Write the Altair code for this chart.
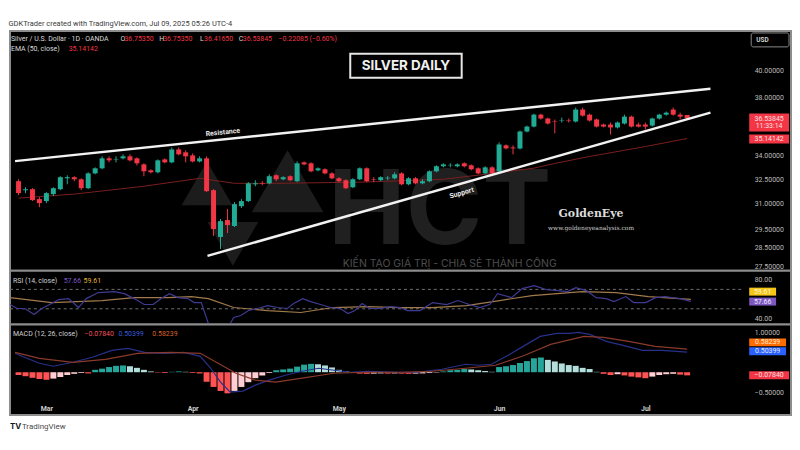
import altair as alt
import numpy as np
import pandas as pd

# ---------------- data ----------------
# daily bars: bar 0 = Mon Mar 3 2025, first bar = -4, last bar = 92 (Jul 9)
first_bar = -4
opens = [32.38, 31.83, 31.89, 31.29, 31.17, 31.59, 31.89, 32.56, 32.63, 32.50,
         31.95, 32.87, 33.19, 33.83, 33.73, 33.83, 33.96, 33.83, 33.44, 33.06,
         32.94, 33.76, 33.57, 34.41, 34.22, 34.02, 33.63, 33.83, 31.83, 29.10,
         30.06, 29.72, 30.87, 31.17, 32.19, 32.25, 32.25, 32.75, 32.50, 32.69,
         32.38, 33.57, 33.51, 33.06, 33.13, 32.87, 32.56, 32.44, 32.01, 32.50,
         33.19, 32.50, 32.44, 32.56, 32.56, 32.87, 32.19, 32.56, 32.25, 32.38,
         33.00, 33.32, 33.38, 33.32, 33.51, 33.38, 33.19, 32.87, 33.25, 33.00,
         34.68, 34.54, 34.48, 35.61, 35.95, 36.78, 36.51, 36.30, 36.37, 36.37,
         36.30, 37.14, 36.78, 36.44, 36.09, 36.09, 35.89, 36.16, 36.64, 36.09,
         36.09, 36.02, 36.51, 36.78, 37.14, 36.78, 36.7535]
highs = [32.50, 32.01, 31.95, 31.41, 31.71, 32.01, 32.69, 32.75, 32.69, 32.56,
         32.94, 33.25, 33.96, 33.96, 33.96, 34.09, 34.09, 33.89, 33.51, 33.13,
         33.76, 33.83, 34.54, 34.54, 34.35, 34.15, 33.96, 33.96, 31.89, 30.12,
         30.70, 31.11, 31.29, 32.32, 32.44, 32.38, 32.81, 32.81, 32.69, 32.75,
         33.63, 33.63, 33.57, 33.25, 33.19, 32.94, 32.63, 32.50, 32.56, 33.25,
         33.25, 32.63, 32.69, 32.69, 32.94, 32.94, 32.63, 32.63, 32.50, 33.06,
         33.38, 33.51, 33.51, 33.51, 33.57, 33.44, 33.25, 33.32, 33.32, 34.88,
         34.74, 34.68, 35.68, 36.02, 36.85, 36.85, 36.57, 36.44, 36.57, 36.51,
         37.28, 37.28, 36.85, 36.51, 36.16, 36.23, 36.30, 36.78, 36.71, 36.23,
         36.23, 36.57, 36.85, 37.00, 37.28, 36.92, 36.7535]
lows = [31.53, 31.65, 31.17, 30.81, 31.05, 31.47, 31.83, 32.19, 32.38, 31.83,
        31.89, 32.81, 33.13, 33.57, 33.57, 33.76, 33.63, 33.38, 32.69, 32.87,
        32.87, 33.51, 33.51, 34.02, 33.57, 33.57, 33.57, 31.71, 29.16, 28.44,
        29.32, 29.66, 30.76, 31.11, 32.07, 32.13, 32.19, 32.38, 32.44, 32.38,
        32.32, 33.38, 32.94, 33.00, 32.81, 32.50, 32.32, 31.89, 31.95, 32.44,
        32.32, 32.32, 32.38, 32.44, 32.50, 32.13, 32.13, 32.19, 32.19, 32.32,
        32.94, 33.25, 33.25, 33.25, 33.25, 33.06, 32.81, 32.81, 32.81, 32.94,
        34.41, 34.09, 34.41, 35.55, 35.89, 36.44, 36.09, 35.48, 36.23, 36.23,
        36.23, 36.64, 36.30, 35.89, 35.89, 35.41, 35.82, 36.09, 35.89, 35.89,
        35.75, 35.95, 36.44, 36.71, 36.71, 36.44, 36.4165]
closes = [31.65, 31.89, 31.23, 31.05, 31.65, 31.95, 32.63, 32.63, 32.50, 31.95,
          32.87, 33.19, 33.83, 33.70, 33.76, 33.96, 33.70, 33.51, 33.00, 32.94,
          33.70, 33.57, 34.41, 34.09, 33.96, 33.63, 33.83, 31.77, 29.55, 30.00,
          29.77, 30.99, 31.17, 32.25, 32.25, 32.22, 32.69, 32.50, 32.63, 32.44,
          33.51, 33.44, 33.00, 33.19, 32.87, 32.56, 32.38, 31.95, 32.50, 33.19,
          32.38, 32.47, 32.63, 32.60, 32.81, 32.19, 32.56, 32.25, 32.38, 33.00,
          33.32, 33.44, 33.41, 33.44, 33.32, 33.13, 32.87, 33.25, 32.87, 34.74,
          34.48, 34.48, 35.61, 35.95, 36.78, 36.51, 36.16, 36.27, 36.40, 36.33,
          37.14, 36.71, 36.37, 35.95, 35.95, 35.89, 36.23, 36.64, 35.95, 35.95,
          35.95, 36.51, 36.78, 36.92, 36.78, 36.64, 36.53845]

ema_bar = [-4, 4, 14, 22, 27, 33, 45, 57, 63, 70, 73, 78, 86, 92]
ema_val = [31.35, 31.59, 32.07, 32.56, 32.25, 32.25, 32.32, 32.50, 32.81, 33.20,
           33.50, 33.95, 34.60, 35.14142]

trend_name = ["Resistance", "Resistance", "Support", "Support"]
trend_bar = [-4.5, 95.35, 23.13, 95.35]
trend_val = [33.65, 38.65, 28.07, 36.92]

rsi_bar = [-4.5, -3.5, -2.4, -1.1, 0, 1.1, 2.4, 3.8, 5.2, 6.3, 8.0, 10.3, 11.7, 13.1,
           14.5, 15.8, 16.9, 18.1, 19.3, 20.7, 21.6, 22.6, 23.7, 25.0, 26.4, 27.2,
           28.2, 29.3, 30.6, 32.0, 33.4, 34.8, 35.7, 37.0, 38.1, 39.5, 40.9, 42.3,
           43.4, 44.4, 45.4, 46.5, 48.0, 49.4, 50.8, 51.8, 53.6, 55.4, 57.4, 59.0,
           60.6, 62.1, 63.5, 64.6, 66.6, 68.1, 69.8, 71.5, 73.1, 74.5, 75.7, 77.2,
           78.6, 80.0, 81.1, 82.8, 83.9, 85.6, 87.0, 88.4, 89.3, 90.5, 92]
rsi_val = [54.4, 50.3, 50.3, 44.1, 50.3, 54.4, 59.5, 60.5, 51.3, 60.5, 66.7, 67.7,
           65.6, 60.5, 54.4, 54.4, 60.5, 65.6, 61.5, 60.5, 56.4, 56.4, 32.8, 25.6,
           30.8, 41.0, 43.1, 48.2, 50.3, 53.3, 51.3, 50.3, 55.4, 60.5, 57.4, 54.4,
           51.3, 50.3, 45.1, 48.2, 55.4, 50.3, 50.3, 52.3, 51.3, 48.2, 48.2, 56.4,
           54.4, 58.5, 54.4, 51.3, 54.4, 65.6, 61.5, 70.8, 73.8, 69.7, 68.7, 67.7,
           71.8, 68.7, 61.5, 60.5, 57.4, 62.6, 56.4, 56.4, 61.5, 62.6, 61.5, 60.5,
           57.66]
rsima_bar = [-4.5, 1.4, 8.5, 13.1, 17.9, 21.2, 23.6, 27.2, 32.0, 36.7, 41.3, 46.1,
             50.8, 55.4, 60.2, 64.9, 69.5, 76.6, 81.4, 86.0, 92]
rsima_val = [61.5, 56.4, 58.5, 61.5, 61.5, 62.6, 60.5, 51.3, 48.2, 46.2, 51.3, 52.3,
             51.3, 51.3, 53.3, 58.5, 63.6, 67.7, 66.7, 62.6, 59.61]
rsi_bands = [70, 50]

macd_bar = [-4.5, -2.8, -1.0, 1.0, 3.8, 6.6, 9.4, 11.7, 14.1, 16.9, 19.7, 22.1, 23.6,
            25.0, 26.4, 28.2, 30.0, 32.0, 34.3, 36.7, 39.1, 41.3, 43.7, 46.1, 50.8,
            53.2, 56.8, 60.2, 62.1, 63.9, 66.3, 68.7, 70.9, 73.3, 75.2, 76.4, 78.0,
            80.4, 82.8, 85.6, 88.4, 92]
macd_val = [0.475, 0.35, 0.225, 0.15, 0.25, 0.375, 0.55, 0.6, 0.5, 0.475, 0.5, 0.4,
            0.1, -0.25, -0.5, -0.475, -0.325, -0.2, -0.075, 0.025, 0.1, 0.05, 0.0,
            0.025, 0.0, 0.0, 0.075, 0.2, 0.175, 0.2, 0.425, 0.675, 0.9, 0.975, 0.975,
            1.0, 0.95, 0.775, 0.675, 0.55, 0.55, 0.50399]
sig_bar = [-4.5, -1.0, 3.8, 8.5, 13.1, 17.9, 22.1, 24.4, 27.2, 30.0, 32.9, 36.7,
           41.3, 46.1, 50.8, 55.4, 60.2, 64.5, 68.7, 72.4, 77.2, 80.0, 83.6, 87.4, 92]
sig_val = [0.5, 0.35, 0.25, 0.325, 0.475, 0.5, 0.475, 0.25, -0.025, -0.2, -0.25,
           -0.15, -0.025, 0.0, 0.0, 0.025, 0.1, 0.175, 0.425, 0.7, 0.9, 0.875, 0.775,
           0.65, 0.58239]
hist = [-0.07, -0.10, -0.14, -0.17, -0.19, -0.16, -0.12, -0.07, -0.04, -0.02,
        -0.03, 0.06, 0.09, 0.13, 0.16, 0.17, 0.15, 0.11, 0.06, 0.02,
        -0.01, -0.02, 0.01, 0.02, 0.01, -0.02, -0.03, -0.24, -0.37, -0.47,
        -0.53, -0.47, -0.37, -0.25, -0.15, -0.08, -0.02, 0.05, 0.07, 0.09,
        0.14, 0.19, 0.21, 0.20, 0.17, 0.12, 0.06, 0.02, -0.02, -0.035,
        -0.04, -0.035, -0.03, -0.035, -0.03, -0.035, -0.04, -0.035, -0.03, -0.02,
        -0.01, 0.02, 0.05, 0.06, 0.08, 0.07, 0.05, 0.03, 0.01, 0.13,
        0.15, 0.18, 0.23, 0.28, 0.35, 0.37, 0.31, 0.27, 0.22, 0.18,
        0.16, 0.11, 0.08, 0.01, -0.04, -0.07, -0.05, -0.08, -0.11, -0.13,
        -0.15, -0.11, -0.07, -0.05, -0.04, -0.06, -0.0784]

month_names = ["Mar", "Apr", "May", "Jun", "Jul"]
month_bars = [0, 21, 42, 65, 86]
price_ticks = [27.5, 28.5, 29.5, 31.0, 32.5, 34.0, 38.0, 40.0]
rsi_ticks = [40, 80]
macd_ticks = [-0.5, 1.0]

header = "GDKTrader created with TradingView.com, Jul 09, 2025 05:26 UTC-4"
symbol = "Silver / U.S. Dollar · 1D · OANDA"
ohlc_keys = ["O", "H", "L", "C"]
ohlc_txt = ["36.75350", "36.75350", "36.41650", "36.53845"]
change_txt = "−0.22085 (−0.60%)"

# ---------------- styling ----------------
FONT = "Roboto"
UP, DOWN = "#22ab94", "#f23645"
W, H1, H2, H3 = 785, 241, 54, 91

xs = alt.Scale(domain=[-4.513, 106.2], nice=False, zero=False)
ps = alt.Scale(type="log", domain=[27.28, 43.17], nice=False)
rs = alt.Scale(domain=[33.85, 89.2], nice=False, zero=False)
ms = alt.Scale(domain=[-1.075, 1.2], nice=False, zero=False)


def yaxis(values, fmt):
    return alt.Axis(orient="right", values=values, format=fmt, offset=-37, domain=False,
                    ticks=False, grid=False, labelPadding=0, labelColor="#bdbdbd",
                    labelFontSize=7, labelFont=FONT, title=None, labelOverlap=False)


price_axis = yaxis(price_ticks, ".5f")
rsi_axis = yaxis(rsi_ticks, ".2f")
macd_axis = yaxis(macd_ticks, ".5f")
expr = " : ".join(f"datum.value == {b} ? '{n}'" for b, n in zip(month_bars, month_names)) + " : ''"
time_axis = alt.Axis(orient="bottom", values=month_bars, labelExpr=expr, offset=-11,
                     domain=False, ticks=False, grid=False, labelPadding=0,
                     labelColor="#cfcfcf", labelFontSize=7, labelFontWeight="bold",
                     labelFont=FONT, title=None, labelFlush=False)

one = pd.DataFrame({"k": [0]})


def txt(s, x, y, color, size=7, align="left", weight="normal", font=FONT, angle=0,
        baseline="middle"):
    return alt.Chart(one).mark_text(text=s, align=align, baseline=baseline, color=color,
                                    fontSize=size, fontWeight=weight, font=font,
                                    angle=angle).encode(x=alt.value(x), y=alt.value(y))


def box(x1, x2, y1, y2, fill, stroke=None, sw=0, r=0):
    kw = dict(fill=fill, cornerRadius=r)
    if stroke:
        kw.update(stroke=stroke, strokeWidth=sw)
    return alt.Chart(one).mark_rect(**kw).encode(
        x=alt.value(x1), x2=alt.value(x2), y=alt.value(y1), y2=alt.value(y2))


def tri(shape, x, y, size, color="#1c1c1c"):
    return alt.Chart(one).mark_point(shape=shape, filled=True, size=size, color=color,
                                     opacity=1, strokeWidth=0).encode(
        x=alt.value(x), y=alt.value(y))


# ---------------- price panel ----------------
bars = list(range(first_bar, first_bar + len(opens)))
df = pd.DataFrame({"i": bars, "o": opens, "h": highs, "l": lows, "c": closes})
df["col"] = np.where(df["c"] >= df["o"], UP, DOWN)
col = alt.Color("col:N", scale=None, legend=None)

XP = lambda f: alt.X(f, type="quantitative", scale=xs, axis=None)
YP = lambda f: alt.Y(f, type="quantitative", scale=ps, axis=price_axis)

wm = [
    tri("triangle-up", 198, 153, 2600),
    tri("triangle-up", 279, 151, 5200),
    tri("triangle-down", 224, 214, 2600),
    txt("HCT", 432, 214, "#202020", size=104, align="center", weight="bold", font="Inter",
        baseline="alphabetic"),
    txt("KIẾN TẠO GIÁ TRỊ - CHIA SẺ THÀNH CÔNG", 442, 234, "#4d4d4d", size=10.5,
        align="center", font="Inter"),
]

ema = alt.Chart(pd.DataFrame({"i": ema_bar, "v": ema_val})).mark_line(
    color="#7b1e1e", strokeWidth=1).encode(x=XP("i"), y=YP("v"))
wicks = alt.Chart(df).mark_rule(strokeWidth=1).encode(x=XP("i"), y=YP("l"), y2="h", color=col)
bodies = alt.Chart(df).mark_bar(width=5).encode(x=XP("i"), y=YP("o"), y2="c", color=col)
trend = alt.Chart(pd.DataFrame({"n": trend_name, "i": trend_bar, "v": trend_val})).mark_line(
    color="#f2f2f2", strokeWidth=2.5, clip=True).encode(x=XP("i"), y=YP("v"), detail="n:N")

price_layers = wm + [
    ema, wicks, bodies, trend,
    txt("Resistance", 214, 102, "#e8e8e8", size=7, align="center", weight="bold", angle=354),
    txt("Support", 454, 163, "#e8e8e8", size=7, align="center", weight="bold", angle=344),
    txt("GoldenEye", 584, 184, "#dcdcdc", size=11, align="center", weight="bold", font="DejaVu Serif"),
    txt("www.goldeneyeanalysis.com", 584, 198, "#cfcfcf", size=6, align="center", font="DejaVu Serif"),
    txt(symbol, 1, 8, "#d9d9d9"),
    txt(ohlc_keys[0], 111, 8, "#d9d9d9"), txt(ohlc_txt[0], 115, 8, DOWN),
    txt(ohlc_keys[1], 150, 8, "#d9d9d9"), txt(ohlc_txt[1], 154, 8, DOWN),
    txt(ohlc_keys[2], 191, 8, "#d9d9d9"), txt(ohlc_txt[2], 195, 8, DOWN),
    txt(ohlc_keys[3], 230, 8, "#d9d9d9"), txt(ohlc_txt[3], 234, 8, DOWN),
    txt(change_txt, 270, 8, DOWN),
    txt("EMA (50, close)", 1, 18, "#d9d9d9"), txt("35.14142", 59, 18, DOWN),
    box(342, 454, 23, 47, "#000000", "#e6e6e6", 2),
    txt("SILVER DAILY", 398, 35.5, "#f0f0f0", size=13.5, align="center", weight="bold", font="Inter"),
    box(745, 783, 2, 16, "#000000", "#8a8a8a", 1, 2),
    txt("USD", 750, 9, "#d0d0d0", size=6.5, weight="bold"),
    box(743, 783, 83, 101, DOWN),
    txt("36.53845", 763, 88, "#ffe0e3", size=7, align="center"),
    txt("11:33:14", 763, 96, "#ffe0e3", size=7, align="center"),
    box(743, 783, 104, 113, DOWN),
    txt("35.14142", 763, 108.5, "#ffe0e3", size=7, align="center"),
]
price = alt.layer(*price_layers).properties(width=W, height=H1)

# ---------------- RSI panel ----------------
XR = lambda f: alt.X(f, type="quantitative", scale=xs, axis=None)
YR = lambda f: alt.Y(f, type="quantitative", scale=rs, axis=rsi_axis)
bands = alt.Chart(pd.DataFrame({"v": rsi_bands})).mark_rule(
    color="#6f6f6f", strokeDash=[3, 3], strokeWidth=1).encode(
    y=YR("v"), x=alt.value(0), x2=alt.value(737))
rsi_line = alt.Chart(pd.DataFrame({"i": rsi_bar, "v": rsi_val})).mark_line(
    color="#3f3a92", strokeWidth=1.2, clip=True).encode(x=XR("i"), y=YR("v"))
rsima_line = alt.Chart(pd.DataFrame({"i": rsima_bar, "v": rsima_val})).mark_line(
    color="#a07a4c", strokeWidth=1.2, clip=True).encode(x=XR("i"), y=YR("v"))
rsi = alt.layer(
    bands, rsima_line, rsi_line,
    txt("RSI (14, close)", 3, 10, "#d0d0d0"),
    txt("57.66", 54, 10, "#7e57c2"), txt("59.61", 74, 10, "#e0b43a"),
    box(743, 770, 17, 25, "#f5c518"), txt("59.61", 756.5, 21, "#fff6d0", align="center"),
    box(743, 770, 27, 35, "#7e57c2"), txt("57.66", 756.5, 31, "#efe8ff", align="center"),
).properties(width=W, height=H2)

# ---------------- MACD panel ----------------
XM = lambda f: alt.X(f, type="quantitative", scale=xs, axis=time_axis)
YM = lambda f: alt.Y(f, type="quantitative", scale=ms, axis=macd_axis)
hdf = pd.DataFrame({"i": bars, "v": hist})
prev = hdf["v"].shift(1).fillna(0)
hdf["col"] = np.where(hdf["v"] >= 0,
                      np.where(hdf["v"] >= prev, "#26a69a", "#b2dfdb"),
                      np.where(hdf["v"] <= prev, "#ff5252", "#ffcdd2"))
hbars = alt.Chart(hdf).mark_bar(width=6).encode(
    x=XM("i"), y=YM("v"), y2=alt.datum(0), color=alt.Color("col:N", scale=None, legend=None))
macd_line = alt.Chart(pd.DataFrame({"i": macd_bar, "v": macd_val})).mark_line(
    color="#27308a", strokeWidth=1.2).encode(x=XM("i"), y=YM("v"))
sig_line = alt.Chart(pd.DataFrame({"i": sig_bar, "v": sig_val})).mark_line(
    color="#8a3a2a", strokeWidth=1.2).encode(x=XM("i"), y=YM("v"))
macd = alt.layer(
    hbars, macd_line, sig_line,
    txt("MACD (12, 26, close)", 3, 10, "#d0d0d0"),
    txt("−0.07840", 75, 10, "#f0525f"), txt("0.50399", 109, 10, "#3a5bd9"),
    txt("0.58239", 143, 10, "#d9622a"),
    box(743, 780, 14, 22, "#ff6d00"), txt("0.58239", 761.5, 18, "#ffe7d6", align="center"),
    box(743, 780, 23, 31, "#2962ff"), txt("0.50399", 761.5, 27, "#e0e8ff", align="center"),
    box(743, 783, 47, 55, DOWN), txt("−0.07840", 763, 51, "#ffe0e3", align="center"),
    txt("TV", 0, 103, "#131722", size=8, weight="bold", font="Inter"),
    txt("TradingView", 12, 103, "#4a4a4a", size=8),
).properties(width=W, height=H3)

chart = alt.vconcat(price, rsi, macd, spacing=0, bounds="flush").properties(
    title=alt.TitleParams(header, anchor="start", fontSize=7.5, color="#3a3a3a",
                          fontWeight="normal", font=FONT, offset=2.5),
    padding={"left": 0, "top": 11, "right": 0, "bottom": 0},
    background="#ffffff",
).configure_view(fill="#000000", stroke="#8d8d8d", strokeWidth=2)

chart.save("out.html", embed_options={"renderer": "svg", "actions": False})
